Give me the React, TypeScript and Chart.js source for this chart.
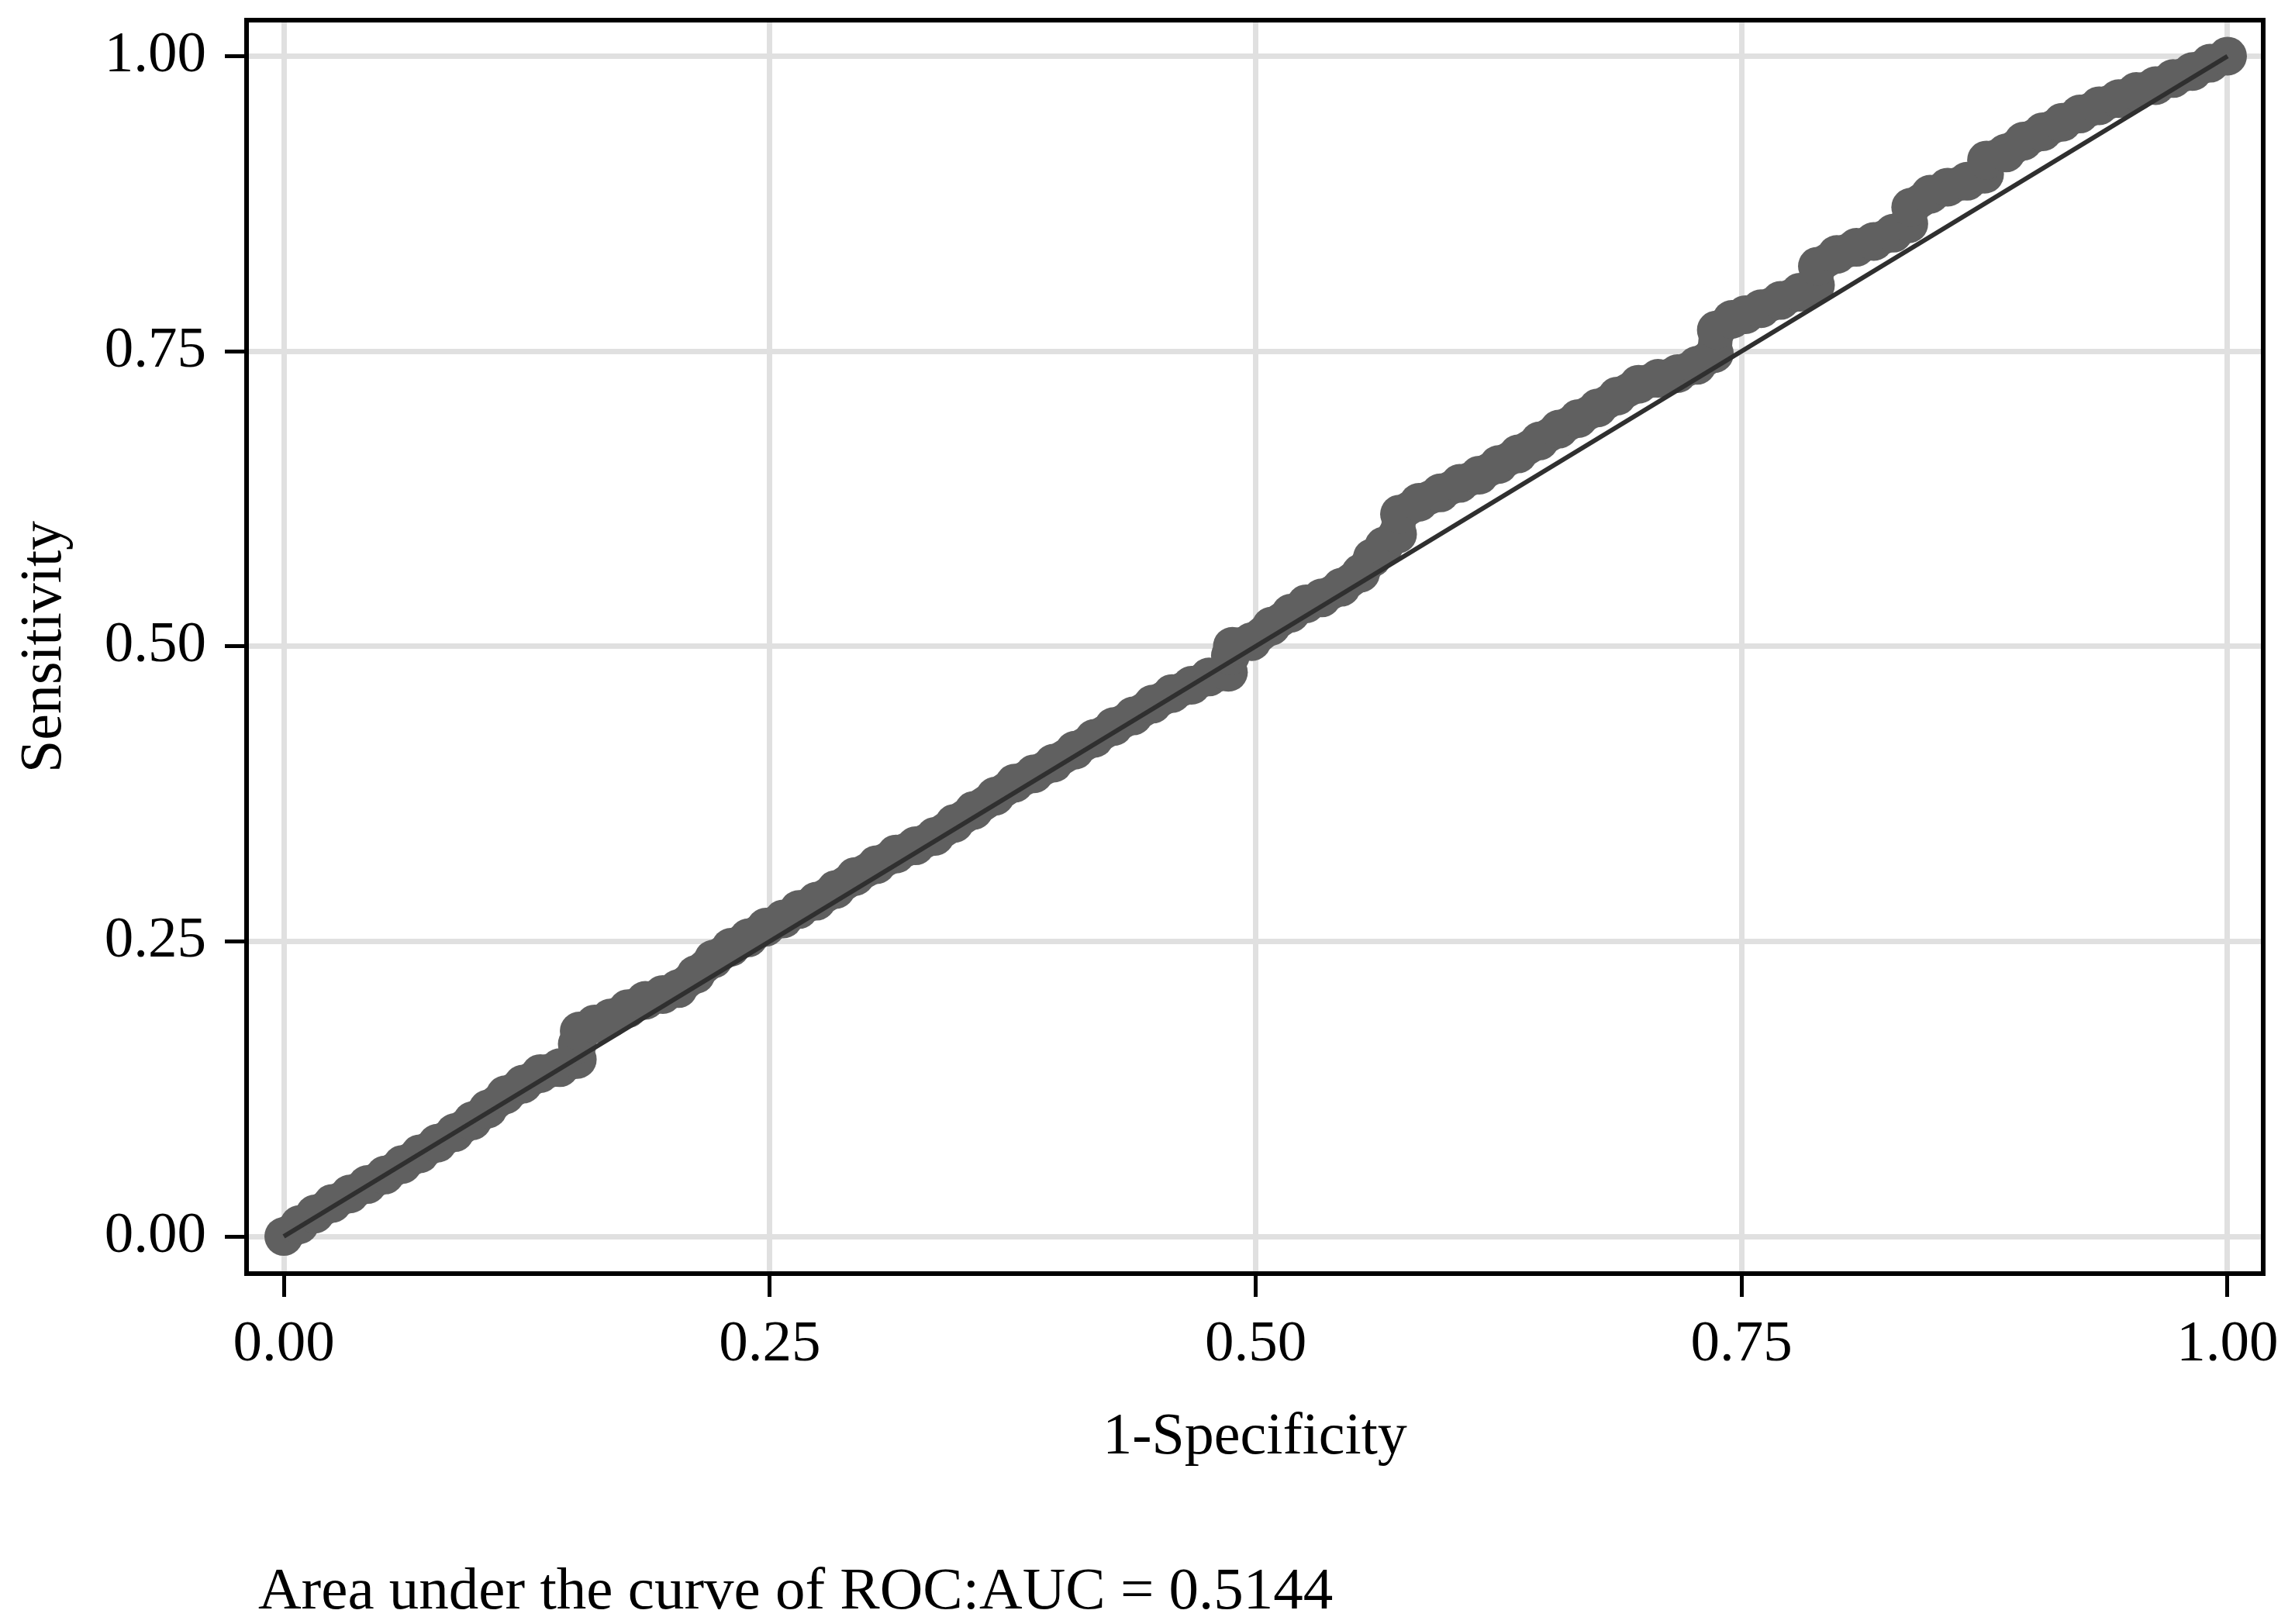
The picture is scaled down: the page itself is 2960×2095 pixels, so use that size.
import React, { useEffect, useRef } from "react";
import { Chart, registerables } from "chart.js";

Chart.register(...registerables);

// ROC curve points (1-Specificity, Sensitivity)
const rocX = [
  0.0, 0.008, 0.016, 0.025, 0.034, 0.043, 0.052, 0.061, 0.07, 0.079, 0.088, 0.097, 0.105, 0.114,
  0.123, 0.132, 0.142, 0.151, 0.151, 0.152, 0.16, 0.168, 0.177, 0.186, 0.195, 0.203, 0.212, 0.221,
  0.23, 0.239, 0.248, 0.257, 0.265, 0.274, 0.284, 0.294, 0.305, 0.315, 0.325, 0.335, 0.345, 0.355,
  0.366, 0.376, 0.386, 0.396, 0.407, 0.417, 0.427, 0.437, 0.447, 0.457, 0.467, 0.476, 0.486, 0.487,
  0.488, 0.498, 0.508, 0.518, 0.526, 0.534, 0.544, 0.554, 0.56, 0.566, 0.573, 0.574, 0.584, 0.595,
  0.605, 0.615, 0.625, 0.635, 0.646, 0.656, 0.666, 0.676, 0.686, 0.697, 0.707, 0.717, 0.727, 0.736,
  0.737, 0.745, 0.752, 0.76, 0.77, 0.78, 0.788, 0.789, 0.799, 0.809, 0.818, 0.828, 0.836, 0.837,
  0.847, 0.856, 0.866, 0.875, 0.876, 0.886, 0.895, 0.905, 0.915, 0.924, 0.934, 0.944, 0.953, 0.963,
  0.972, 0.982, 0.991, 1.0,
];
const rocY = [
  0.0, 0.01, 0.019, 0.028, 0.036, 0.044, 0.052, 0.061, 0.07, 0.079, 0.088, 0.098, 0.108, 0.12,
  0.129, 0.138, 0.143, 0.15, 0.163, 0.174, 0.18, 0.185, 0.193, 0.2, 0.205, 0.21, 0.222, 0.235,
  0.245, 0.253, 0.262, 0.269, 0.277, 0.284, 0.294, 0.305, 0.315, 0.324, 0.331, 0.339, 0.35, 0.361,
  0.373, 0.384, 0.392, 0.401, 0.412, 0.422, 0.432, 0.441, 0.451, 0.46, 0.467, 0.474, 0.478, 0.492,
  0.5, 0.504, 0.517, 0.528, 0.536, 0.541, 0.55, 0.562, 0.575, 0.585, 0.595, 0.612, 0.622, 0.63,
  0.638, 0.645, 0.654, 0.663, 0.674, 0.684, 0.693, 0.702, 0.712, 0.722, 0.727, 0.731, 0.738, 0.748,
  0.768, 0.777, 0.781, 0.786, 0.793, 0.8, 0.806, 0.822, 0.832, 0.838, 0.843, 0.85, 0.858, 0.872,
  0.883, 0.889, 0.894, 0.9, 0.912, 0.918, 0.928, 0.936, 0.944, 0.951, 0.958, 0.964, 0.97, 0.975,
  0.981, 0.987, 0.994, 1.0,
];

// Reference (chance) line
const refX = [0, 1];
const refY = [0, 1];

const tickValues = [0, 0.25, 0.5, 0.75, 1];
const tickLabels = ["0.00", "0.25", "0.50", "0.75", "1.00"];

const xTitle = "1-Specificity";
const yTitle = "Sensitivity";
const noteText = "Area under the curve of ROC:AUC = 0.5144";

const FONT = '"Liberation Serif", "Times New Roman", serif';

const framePlugin = {
  id: "frameAndNote",
  afterDatasetsDraw(chart: any) {
    const { ctx, chartArea } = chart;
    const { left, top, right, bottom } = chartArea;
    ctx.save();
    ctx.strokeStyle = "#000";
    ctx.lineWidth = 6;
    ctx.strokeRect(left, top, right - left, bottom - top);
    ctx.fillStyle = "#000";
    ctx.font = `77px ${FONT}`;
    ctx.textAlign = "left";
    ctx.textBaseline = "alphabetic";
    ctx.fillText(noteText, left + 15, chart.height - 20);
    ctx.restore();
  },
};

export default function App() {
  const canvasRef = useRef<HTMLCanvasElement | null>(null);

  useEffect(() => {
    if (!canvasRef.current) return;
    const setTicks = (scale: any) => {
      scale.ticks = tickValues.map((v) => ({ value: v }));
    };
    const labelFor = (v: any) => {
      const i = tickValues.findIndex((t) => Math.abs(t - Number(v)) < 1e-9);
      return i >= 0 ? tickLabels[i] : "";
    };
    const chart = new Chart(canvasRef.current, {
      type: "scatter",
      data: {
        datasets: [
          {
            label: "Reference",
            data: refX.map((x, i) => ({ x, y: refY[i] })),
            showLine: true,
            borderColor: "#2f2f2f",
            borderWidth: 6,
            pointRadius: 0,
            fill: false,
          },
          {
            label: "ROC",
            data: rocX.map((x, i) => ({ x, y: rocY[i] })),
            showLine: true,
            borderColor: "#606060",
            borderWidth: 44,
            borderJoinStyle: "round",
            borderCapStyle: "round",
            pointRadius: 25,
            pointBackgroundColor: "#606060",
            pointBorderWidth: 0,
            pointBorderColor: "#606060",
            fill: false,
          },
        ],
      },
      options: {
        animation: false,
        responsive: true,
        maintainAspectRatio: false,
        devicePixelRatio: 1,
        layout: { padding: { left: 0, right: 41, top: 26, bottom: 194 } },
        plugins: {
          legend: { display: false },
          tooltip: { enabled: false },
        },
        scales: {
          x: {
            type: "linear",
            min: -0.01915,
            max: 1.01835,
            afterBuildTicks: setTicks,
            afterFit: (scale: any) => {
              scale.height = 258;
              scale.paddingLeft = 0;
              scale.paddingRight = 0;
            },
            border: { display: false },
            grid: {
              color: "#e0e0e0",
              lineWidth: 7,
              tickColor: "#000",
              tickWidth: 5,
              tickLength: 30,
              drawTicks: true,
            },
            ticks: {
              color: "#000",
              font: { family: FONT, size: 75 },
              padding: 17,
              maxRotation: 0,
              autoSkip: false,
              callback: (v: any) => labelFor(v),
            },
            title: {
              display: true,
              text: xTitle,
              color: "#000",
              font: { family: FONT, size: 76 },
              padding: { top: 0, bottom: 0 },
            },
          },
          y: {
            type: "linear",
            min: -0.0315,
            max: 1.0305,
            afterBuildTicks: setTicks,
            afterFit: (scale: any) => {
              scale.width = 318;
              scale.paddingTop = 0;
              scale.paddingBottom = 0;
            },
            border: { display: false },
            grid: {
              color: "#e0e0e0",
              lineWidth: 7,
              tickColor: "#000",
              tickWidth: 5,
              tickLength: 28,
              drawTicks: true,
            },
            ticks: {
              color: "#000",
              font: { family: FONT, size: 75 },
              padding: 24,
              autoSkip: false,
              callback: (v: any) => labelFor(v),
            },
            title: {
              display: true,
              text: yTitle,
              color: "#000",
              font: { family: FONT, size: 76 },
              padding: { top: 12, bottom: 0 },
            },
          },
        },
      },
      plugins: [framePlugin],
    });
    return () => chart.destroy();
  }, []);

  return (
    <div style={{ position: "absolute", left: 0, top: 0, width: 2960, height: 2095, background: "#fff" }}>
      <canvas ref={canvasRef} />
    </div>
  );
}
